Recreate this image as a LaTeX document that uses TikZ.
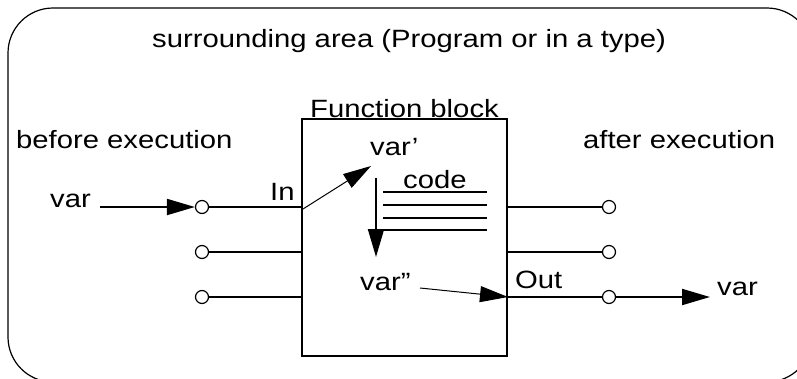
\documentclass[tikz,border=0pt]{standalone}
\usepackage{fontspec}
\setmainfont{Liberation Sans}[FakeStretch=1.17]
\usetikzlibrary{arrows.meta}

\begin{document}
\begin{tikzpicture}[x=1pt,y=-1pt,
    lbl/.style={font=\fontsize{25}{30}\selectfont,anchor=base west,inner sep=0pt},
    pin/.style={circle,draw,line width=1.2pt,fill=white,minimum size=13pt,inner sep=0pt},
    wire/.style={line width=2pt},
    big/.style={-{Triangle[length=28pt,width=16pt]}},
    codeline/.style={line width=2pt}]
            \clip (0,0) rectangle (797,378);
            \draw[line width=1.2pt,rounded corners=45pt] (8,8) rectangle (812,382);
            \node[lbl] (area) at (152,47) {surrounding area (Program or in a type)};
            \node[lbl] (fbname) at (310,117) {Function block};
            \node[lbl] (before) at (16,148) {before execution};
            \node[lbl] (after) at (583,148) {after execution};
            \node[draw,line width=2pt,minimum width=205pt,minimum height=237pt,inner sep=0pt] (fb) at (404.5,237.5) {};
            % pins left and right
            \node[pin] (in1) at (202,207) {};
            \node[pin] (in2) at (202,252) {};
            \node[pin] (in3) at (202,297) {};
            \node[pin] (out1) at (609,207) {};
            \node[pin] (out2) at (609,252) {};
            \node[pin] (out3) at (609,297) {};
            \draw[wire] (in1.east) -- (in1 -| fb.west);
            \draw[wire] (in2.east) -- (in2 -| fb.west);
            \draw[wire] (in3.east) -- (in3 -| fb.west);
            \draw[wire] (out1.west) -- (out1 -| fb.east);
            \draw[wire] (out2.west) -- (out2 -| fb.east);
            \draw[wire] (out3.west) -- (out3 -| fb.east);
            % labels at the pins
            \node[lbl] (varin) at (50,207) {var};
            \node[lbl] (inlbl) at (270,200) {In};
            \node[lbl] (outlbl) at (515,288) {Out};
            \node[lbl] (varout) at (717,295) {var};
            \coordinate (vstart) at (100,207);
            \coordinate (vend) at (710,297);
            \draw[wire,big] (vstart) -- (in1.west);
            \draw[wire,big] (out3.east) -- (vend);
            % inside the block
            \node[lbl] (var1) at (370,155) {var'};
            \node[lbl] (code) at (403,188) {code};
            \node[lbl] (var2) at (360,290) {var”};
            \coordinate (dstart) at (303,209);
            \coordinate (dtip) at (371,166);
            \draw[line width=1pt,big] (dstart) -- (dtip);
            \coordinate (cstart) at (376,178);
            \coordinate (cend) at (376,257);
            \draw[wire,big] (cstart) -- (cend);
            \foreach \y in {192,205,218,230}
                \draw[codeline] (383,\y) -- (487,\y);
            \coordinate (rstart) at (420,288);
            \draw[line width=1pt,big] (rstart) -- (out3 -| fb.east);
\end{tikzpicture}
\end{document}
